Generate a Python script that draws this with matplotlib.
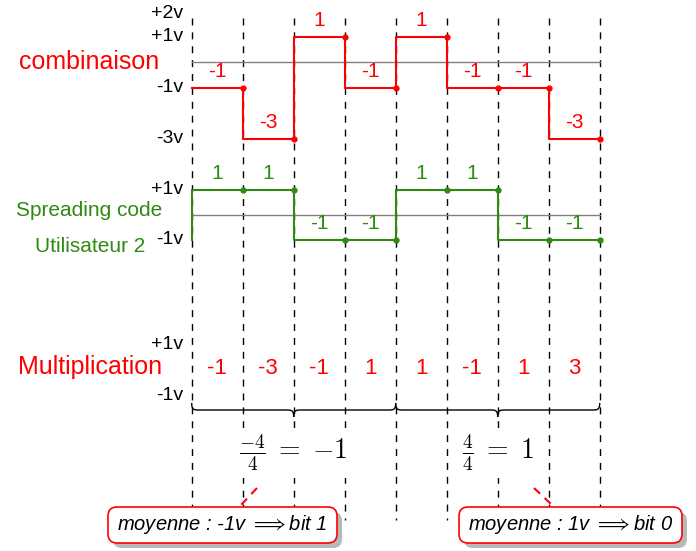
import numpy as np
import matplotlib
matplotlib.use("Agg")
import matplotlib.pyplot as plt
from matplotlib.path import Path
from matplotlib.patches import PathPatch, FancyBboxPatch
from matplotlib.transforms import Affine2D

plt.rcParams['font.family'] = ['Liberation Sans', 'DejaVu Sans']
plt.rcParams['mathtext.fontset'] = 'cm'

# chip values
combinaison = [-1, -3, 1, -1, 1, -1, -1, -3]
code_user2 = [1, 1, -1, -1, 1, 1, -1, -1]
multiplication = [-1, -3, -1, 1, 1, -1, 1, 3]
groups = [(0, 4), (4, 8)]
moyennes = ["$\\frac{-4}{4}\\;=\\;{-1}$", "$\\frac{4}{4}\\;=\\;1$"]
box_texts = ["moyenne : -1v $\\Longrightarrow$bit 1", "moyenne : 1v $\\Longrightarrow$bit 0"]

RED = '#ff0000'
GREEN = '#2f8a12'
W, H = 696, 551
X0, DX = 191.7, 51.0   # pixel of chip 0, pixels per chip

fig = plt.figure(figsize=(W / 100, H / 100), dpi=100)
pix = Affine2D().scale(1, -1).translate(0, H)  # image pixel coords


def layer(zero_px, unit_px):
    ax = fig.add_axes([0, 0, 1, 1])
    ax.set_xlim(-X0 / DX, (W - X0) / DX)
    ax.set_ylim((zero_px - H) / unit_px, zero_px / unit_px)
    ax.axis('off')
    ax.patch.set_alpha(0)
    return ax


def chip_x(px):
    return (px - X0) / DX


bg = layer(0, -1)          # x in chips, y in pixels (down)
top = layer(62.2, 25.5)
mid = layer(215, 25)
bot = layer(370, 25.5)

n = len(combinaison)
xs = np.arange(n + 1)

# dashed chip boundaries
bg.vlines(xs, 18, 520, colors='black', linestyles=(0, (5, 5)), linewidth=1.0, zorder=1)


def signal(ax, vals, color, start_edge=False, offset=12):
    ax.plot([0, n], [0, 0], color='#808080', lw=1.0, zorder=2)
    ax.step(xs, list(vals) + [vals[-1]], where='post', color=color, lw=1.5, zorder=3)
    if start_edge:
        ax.plot([0, 0], [-1, 1], color=color, lw=1.5, zorder=3)
    ax.plot(xs[1:], vals, 'o', color=color, ms=3.5, zorder=4)
    for i, v in enumerate(vals):
        ax.annotate(str(v), (i + 0.5, v), xytext=(0, offset), textcoords='offset points',
                    ha='center', va='center', color=color, fontsize=15)


signal(top, combinaison, RED)
signal(mid, code_user2, GREEN, start_edge=True)

lx = chip_x(183)
for v, s in [(1.92, '+2v'), (1, '+1v'), (-1, '-1v'), (-3, '-3v')]:
    top.text(lx, v, s, ha='right', va='center', fontsize=14)
top.text(chip_x(159), 0, 'combinaison', ha='right', va='center', color=RED, fontsize=18)

for v, s in [(1, '+1v'), (-1, '-1v')]:
    mid.text(lx, v, s, ha='right', va='center', fontsize=14)
mid.text(chip_x(89), 0.2, 'Spreading code', ha='center', va='center', color=GREEN, fontsize=15)
mid.text(chip_x(145), -1.25, 'Utilisateur 2', ha='right', va='center', color=GREEN, fontsize=15)

for v, s in [(1, '+1v'), (-1, '-1v')]:
    bot.text(lx, v, s, ha='right', va='center', fontsize=14)
bot.text(chip_x(162), 0.1, 'Multiplication', ha='right', va='center', color=RED, fontsize=18)
for i, v in enumerate(multiplication):
    bot.text(i + 0.5, 0.05, str(v), ha='center', va='center', color=RED, fontsize=16)


def brace(ax, xa, xb, y, h=7, k=0.15):
    xm = (xa + xb) / 2
    verts = [(xa, y - h), (xa, y), (xa + k * 0.3, y), (xa + k, y),
             (xm - k, y),
             (xm - k * 0.3, y), (xm, y), (xm, y + h),
             (xm, y), (xm + k * 0.3, y), (xm + k, y),
             (xb - k, y),
             (xb - k * 0.3, y), (xb, y), (xb, y - h)]
    codes = [Path.MOVETO, Path.CURVE4, Path.CURVE4, Path.CURVE4, Path.LINETO,
             Path.CURVE4, Path.CURVE4, Path.CURVE4,
             Path.CURVE4, Path.CURVE4, Path.CURVE4, Path.LINETO,
             Path.CURVE4, Path.CURVE4, Path.CURVE4]
    ax.add_patch(PathPatch(Path(verts, codes), fill=False, lw=1.0, color='black', zorder=3))


for (a, b), txt in zip(groups, moyennes):
    brace(bg, a, b, 410)
    bg.text((a + b) / 2, 453, txt, ha='center', va='center', fontsize=20, zorder=4,
            bbox=dict(facecolor='white', edgecolor='none', pad=3))

# result boxes
boxes = [(108, 507, 229, 36), (459, 507, 223, 36)]
links = [((257, 488), (241, 505)), ((534, 488), (551, 504))]
for (bx, by, bw, bh), txt, (p0, p1) in zip(boxes, box_texts, links):
    bg.plot([p0[0], p1[0]], [p0[1], p1[1]], transform=pix,
            color=RED, lw=1.5, ls=(0, (4, 3)), zorder=5)
    shadow = FancyBboxPatch((bx + 5, by + 5), bw, bh, boxstyle='round,pad=0,rounding_size=9',
                            transform=pix, facecolor='#b8b8b8', edgecolor='none', zorder=6)
    box = FancyBboxPatch((bx, by), bw, bh, boxstyle='round,pad=0,rounding_size=9',
                         transform=pix, facecolor='white', edgecolor=RED, lw=1.2, zorder=7)
    bg.add_patch(shadow)
    bg.add_patch(box)
    bg.text(bx + bw / 2, by + bh / 2, txt, transform=pix, ha='center', va='center',
            style='italic', fontsize=14.5, zorder=8)

fig.savefig('out.png', dpi=100)
